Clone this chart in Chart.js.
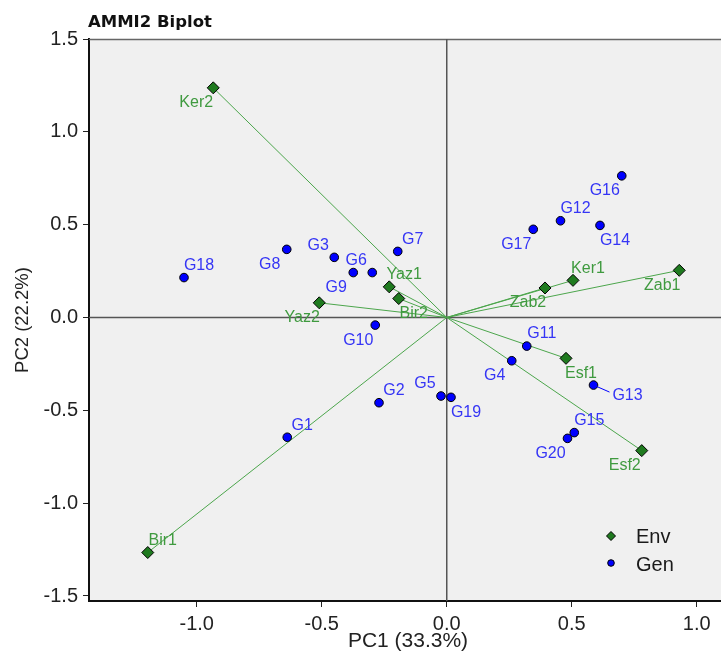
<!DOCTYPE html>
<html>
<head>
<meta charset="utf-8">
<title>AMMI2 Biplot</title>
<script src="https://cdn.jsdelivr.net/npm/chart.js@4.4.0/dist/chart.umd.min.js"></script>
<style>
    html, body { margin: 0; padding: 0; background: #fff; }
    #wrap { width: 721px; height: 657px; }
</style>
</head>
<body>
<div id="wrap"><canvas id="biplot" width="721" height="657"></canvas></div>
<script>
// --- Data ---
const envNames = ['Ker2', 'Bir1', 'Yaz2', 'Yaz1', 'Bir2', 'Zab2', 'Ker1', 'Zab1', 'Esf1', 'Esf2'];
const envPC1 = [-0.934, -1.196, -0.510, -0.230, -0.192, 0.393, 0.505, 0.930, 0.477, 0.780];
const envPC2 = [1.237, -1.266, 0.079, 0.165, 0.102, 0.159, 0.200, 0.254, -0.220, -0.717];

const genNames = ['G1', 'G2', 'G3', 'G4', 'G5', 'G6', 'G7', 'G8', 'G9', 'G10',
                  'G11', 'G12', 'G13', 'G14', 'G15', 'G16', 'G17', 'G18', 'G19', 'G20'];
const genPC1 = [-0.638, -0.271, -0.450, 0.260, -0.023, -0.298, -0.196, -0.640, -0.374, -0.286,
                0.320, 0.455, 0.587, 0.613, 0.510, 0.700, 0.346, -1.051, 0.017, 0.483];
const genPC2 = [-0.645, -0.459, 0.324, -0.233, -0.423, 0.242, 0.356, 0.367, 0.242, -0.041,
                -0.154, 0.521, -0.364, 0.496, -0.620, 0.763, 0.475, 0.215, -0.430, -0.651];

const xTicks = [-1.0, -0.5, 0.0, 0.5, 1.0];
const yTicks = [-1.5, -1.0, -0.5, 0.0, 0.5, 1.0, 1.5];

// which side of the point each label sits on (ur / ul / ll / lr, 'far' = pushed away with a leader)
const envLabelSide = ['ll', 'ur', 'll', 'ur', 'lr', 'll', 'ur', 'll', 'lr', 'll'];
const genLabelSide = ['ur', 'ur', 'ul', 'll', 'ul', 'ul', 'ur', 'll', 'll', 'll',
                      'ur', 'ur', 'far', 'lr', 'ur', 'll', 'll', 'ur', 'lr', 'll'];

// --- Styles ---
const ENV_FILL = '#1f7a1f';
const GEN_FILL = '#0000ff';
const ENV_TEXT = '#3f9a3f';
const GEN_TEXT = '#3535f5';
const VECTOR_COLOR = '#4ca64c';
const FONT = '"Liberation Sans", Arial, sans-serif';

const sideOffset = {
    ur: [15, -12],
    ul: [-16, -12],
    ll: [-17, 15],
    lr: [15, 15],
    far: [34, 11]
};

// --- Datasets ---
const genPoints = genPC1.map((x, i) => ({ x: x, y: genPC2[i] }));
const envPoints = envPC1.map((x, i) => ({ x: x, y: envPC2[i] }));

const datasets = [
    {
        label: 'Gen',
        data: genPoints,
        pointStyle: 'circle',
        pointRadius: 4.3,
        backgroundColor: GEN_FILL,
        borderColor: '#000',
        borderWidth: 1,
        order: 1
    },
    {
        label: 'Env',
        data: envPoints,
        pointStyle: 'rectRot',
        pointRadius: 6,
        backgroundColor: ENV_FILL,
        borderColor: '#000',
        borderWidth: 1,
        order: 2
    }
];

// one vector from the origin to each environment
envPoints.forEach((p, i) => {
    datasets.push({
        label: 'vec-' + envNames[i],
        data: [{ x: 0, y: 0 }, p],
        showLine: true,
        pointRadius: 0,
        borderColor: VECTOR_COLOR,
        borderWidth: 1,
        order: 3
    });
});

// --- Drawing helpers ---
const biplotPlugin = {
    id: 'biplotExtras',
    beforeDraw(chart) {
        const { ctx, chartArea: a } = chart;
        ctx.save();
        ctx.fillStyle = '#fff';
        ctx.fillRect(0, 0, chart.width, chart.height);
        ctx.fillStyle = '#f0f0f0';
        ctx.fillRect(a.left, a.top, a.right - a.left, a.bottom - a.top);
        ctx.restore();
    },
    beforeDatasetsDraw(chart) {
        const { ctx, chartArea: a, scales } = chart;
        const x0 = scales.x.getPixelForValue(0);
        const y0 = scales.y.getPixelForValue(0);
        ctx.save();
        // top frame line
        ctx.strokeStyle = '#666';
        ctx.lineWidth = 1.5;
        ctx.beginPath();
        ctx.moveTo(a.left, a.top + 0.5);
        ctx.lineTo(a.right, a.top + 0.5);
        ctx.stroke();
        // zero lines
        ctx.strokeStyle = '#555';
        ctx.lineWidth = 1.5;
        ctx.beginPath();
        ctx.moveTo(x0, a.top);
        ctx.lineTo(x0, a.bottom);
        ctx.moveTo(a.left, y0);
        ctx.lineTo(a.right, y0);
        ctx.stroke();
        ctx.restore();
    },
    afterDatasetsDraw(chart) {
        const { ctx, chartArea: a } = chart;
        ctx.save();
        ctx.font = '16px ' + FONT;
        ctx.textAlign = 'center';
        ctx.textBaseline = 'middle';

        const genMeta = chart.getDatasetMeta(0);
        genMeta.data.forEach((el, i) => {
            const side = genLabelSide[i];
            const off = sideOffset[side];
            if (side === 'far') {
                ctx.strokeStyle = GEN_FILL;
                ctx.lineWidth = 1;
                ctx.beginPath();
                ctx.moveTo(el.x, el.y);
                ctx.lineTo(el.x + 16, el.y + 7);
                ctx.stroke();
            }
            ctx.fillStyle = GEN_TEXT;
            ctx.fillText(genNames[i], el.x + off[0], el.y + off[1]);
        });

        const envMeta = chart.getDatasetMeta(1);
        envMeta.data.forEach((el, i) => {
            const off = sideOffset[envLabelSide[i]];
            ctx.fillStyle = ENV_TEXT;
            ctx.fillText(envNames[i], el.x + off[0], el.y + off[1]);
        });

        // legend
        const lx = a.right - 110;
        const ly = a.bottom - 65;
        ctx.fillStyle = ENV_FILL;
        ctx.strokeStyle = '#000';
        ctx.lineWidth = 1;
        ctx.beginPath();
        ctx.moveTo(lx - 4.5, ly);
        ctx.lineTo(lx, ly - 4.5);
        ctx.lineTo(lx + 4.5, ly);
        ctx.lineTo(lx, ly + 4.5);
        ctx.closePath();
        ctx.fill();
        ctx.stroke();
        ctx.fillStyle = GEN_FILL;
        ctx.beginPath();
        ctx.arc(lx, ly + 27, 3.3, 0, Math.PI * 2);
        ctx.fill();
        ctx.stroke();
        ctx.font = '20px ' + FONT;
        ctx.fillStyle = '#1a1a1a';
        ctx.textAlign = 'left';
        ctx.fillText('Env', lx + 25, ly + 1);
        ctx.fillText('Gen', lx + 25, ly + 29);

        // title
        ctx.font = 'bold 16.5px "DejaVu Sans", Verdana, sans-serif';
        ctx.fillStyle = '#111';
        ctx.textAlign = 'left';
        ctx.fillText('AMMI2 Biplot', 88, 23);

        // axis titles
        ctx.fillStyle = '#222';
        ctx.textAlign = 'center';
        ctx.font = '21px ' + FONT;
        ctx.fillText('PC1 (33.3%)', 408, 641);
        ctx.font = '18.5px ' + FONT;
        ctx.translate(23, 320);
        ctx.rotate(-Math.PI / 2);
        ctx.fillText('PC2 (22.2%)', 0, 0);
        ctx.restore();
    }
};

// --- Chart ---
const tickFont = { family: FONT, size: 20 };

new Chart(document.getElementById('biplot'), {
    type: 'scatter',
    data: { datasets: datasets },
    options: {
        responsive: false,
        animation: false,
        layout: { autoPadding: false, padding: { top: 39, right: 0, bottom: 0, left: 0 } },
        plugins: {
            legend: { display: false },
            tooltip: { enabled: false },
            title: { display: false }
        },
        scales: {
            x: {
                type: 'linear',
                min: -1.431,
                max: 1.097,
                afterFit: (s) => { s.height = 56; s.paddingLeft = 0; s.paddingRight = 0; },
                afterBuildTicks: (s) => { s.ticks = xTicks.map(v => ({ value: v })); },
                ticks: {
                    callback: (v) => Number(v).toFixed(1),
                    font: tickFont,
                    color: '#222',
                    padding: 5,
                    maxRotation: 0
                },
                grid: { drawOnChartArea: false, tickLength: 6, color: '#222' },
                border: { color: '#111', width: 2 }
            },
            y: {
                type: 'linear',
                min: -1.527,
                max: 1.5,
                afterFit: (s) => { s.width = 89; s.paddingTop = 0; s.paddingBottom = 0; },
                afterBuildTicks: (s) => { s.ticks = yTicks.map(v => ({ value: v })); },
                ticks: {
                    callback: (v) => Number(v).toFixed(1),
                    font: tickFont,
                    color: '#222',
                    padding: 5
                },
                grid: { drawOnChartArea: false, tickLength: 6, color: '#222' },
                border: { color: '#111', width: 2 }
            }
        }
    },
    plugins: [biplotPlugin]
});
</script>
</body>
</html>
